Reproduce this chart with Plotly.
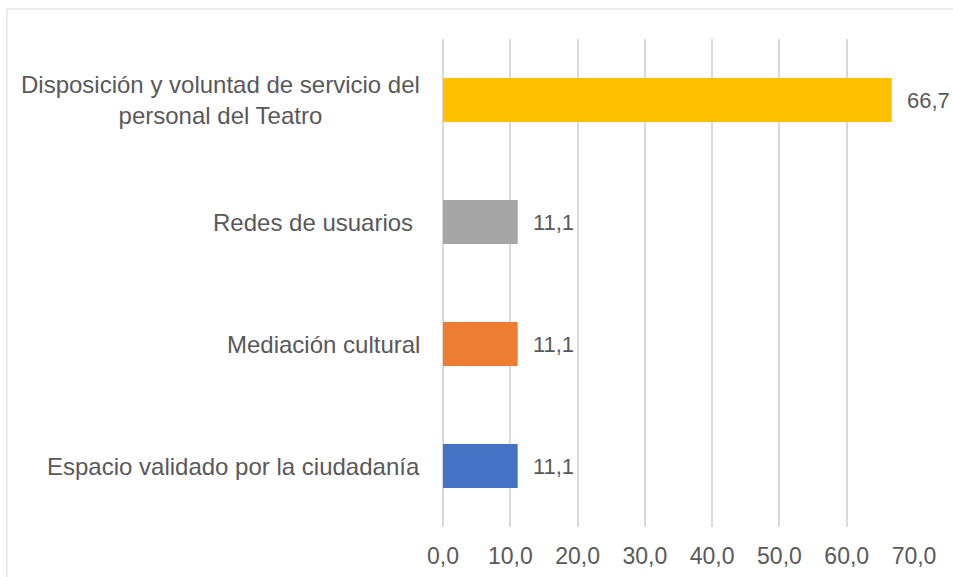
import plotly.graph_objects as go

# data
categories = ["Espacio validado por la ciudadanía",
              "Mediación cultural",
              "Redes de usuarios\u00a0",
              "Disposición y voluntad de servicio del<br>personal del Teatro"]
values = [11.1, 11.1, 11.1, 66.7]
bar_colors = ["#4472C4", "#ED7D31", "#A5A5A5", "#FFC000"]
x_ticks = [0, 10, 20, 30, 40, 50, 60, 70]

text_color = "#595959"
grid_color = "#D9D9D9"
font_family = "Liberation Sans, Arial, sans-serif"

fig = go.Figure(go.Bar(
    x=values, y=categories, orientation="h",
    marker=dict(color=bar_colors, line=dict(width=0)),
    texttemplate="\u00a0\u00a0%{x:.1f}", textposition="outside",
    textfont=dict(size=22, color=text_color, family=font_family),
    cliponaxis=False, constraintext="none",
))

# category labels as annotations so wrapped lines are centred like the original
for cat in categories:
    fig.add_annotation(x=-0.045, xref="paper", y=cat, yref="y", text=cat,
                       xanchor="right", align="center", showarrow=False,
                       font=dict(size=24, color=text_color, family=font_family))

fig.update_layout(
    width=953, height=577,
    margin=dict(l=443, r=39, t=39, b=50, autoexpand=False),
    paper_bgcolor="white", plot_bgcolor="white",
    separators=",.",
    bargap=0.64,
    showlegend=False,
    font=dict(family=font_family, color=text_color),
    xaxis=dict(range=[0, 70], tickvals=x_ticks, tickformat=".1f",
               showgrid=True, gridcolor=grid_color, gridwidth=1.5,
               zeroline=True, zerolinecolor=grid_color, zerolinewidth=1.5,
               showline=False, ticks="", ticklabelstandoff=13, automargin=False,
               tickfont=dict(size=23, color=text_color)),
    yaxis=dict(showticklabels=False, showgrid=False, zeroline=False,
               categoryorder="array", categoryarray=categories),
    shapes=[dict(type="rect", xref="paper", yref="paper",
                 x0=-0.926, x1=1.1, y0=-0.2, y1=1.0615,
                 line=dict(color=grid_color, width=1), layer="below")],
)

# page margin off so the figure sits at the window's top-left corner
fig.write_html("out.html", config={"displayModeBar": False},
               post_script="document.body.style.margin='0';document.body.style.overflow='hidden';")
